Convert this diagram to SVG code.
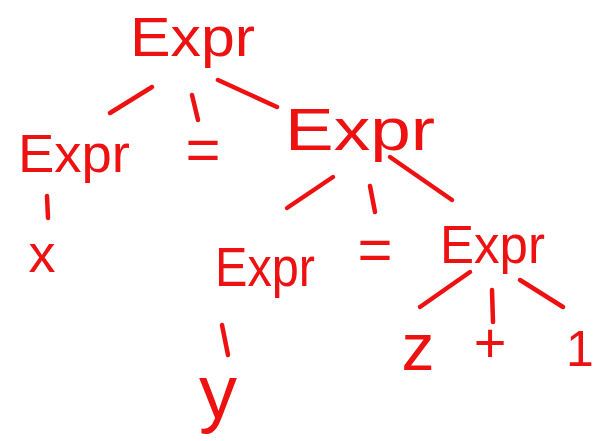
<svg xmlns="http://www.w3.org/2000/svg" width="597" height="441" viewBox="0 0 597 441">
<style>
.t{font-family:"Liberation Sans",Arial,sans-serif;fill:#ee1111}
.c line{stroke:#ee1111;stroke-width:4.5;stroke-linecap:round}
</style>
<rect width="597" height="441" fill="#ffffff"/>
<g class="c" id="connectors">
<line x1="110" y1="113" x2="152" y2="87"/>
<line x1="192" y1="95" x2="198" y2="120"/>
<line x1="218" y1="80" x2="277" y2="107"/>
<line x1="47" y1="196" x2="48" y2="218"/>
<line x1="287" y1="208" x2="333" y2="177"/>
<line x1="370" y1="186" x2="375" y2="212"/>
<line x1="390" y1="157" x2="452" y2="200"/>
<line x1="420" y1="307" x2="470" y2="272"/>
<line x1="492" y1="290" x2="493" y2="322"/>
<line x1="520" y1="280" x2="563" y2="307"/>
<line x1="222" y1="325" x2="228" y2="355"/>
</g>
<g id="root"><text class="t" x="130" y="56" font-size="56" textLength="125" lengthAdjust="spacingAndGlyphs">Expr</text></g>
<g id="expr-left"><text class="t" x="18" y="172" font-size="54" textLength="112" lengthAdjust="spacingAndGlyphs">Expr</text></g>
<g id="eq1"><text class="t" x="203" y="170" font-size="60" text-anchor="middle">=</text></g>
<g id="expr-right"><text class="t" x="285" y="150" font-size="60" textLength="150" lengthAdjust="spacingAndGlyphs">Expr</text></g>
<g id="x"><text class="t" x="42" y="272" font-size="54" text-anchor="middle">x</text></g>
<g id="expr-l3"><text class="t" x="215" y="286" font-size="56" textLength="100" lengthAdjust="spacingAndGlyphs">Expr</text></g>
<g id="eq2"><text class="t" x="375" y="270" font-size="60" text-anchor="middle">=</text></g>
<g id="expr-r3"><text class="t" x="440" y="263" font-size="54" textLength="105" lengthAdjust="spacingAndGlyphs">Expr</text></g>
<g id="y"><text class="t" x="218" y="418" font-size="76" text-anchor="middle">y</text></g>
<g id="z"><text class="t" x="418" y="370" font-size="66" text-anchor="middle">z</text></g>
<g id="plus"><text class="t" x="490" y="362" font-size="56" text-anchor="middle">+</text></g>
<g id="one"><text class="t" x="580" y="366" font-size="50" text-anchor="middle">1</text></g>
</svg>
